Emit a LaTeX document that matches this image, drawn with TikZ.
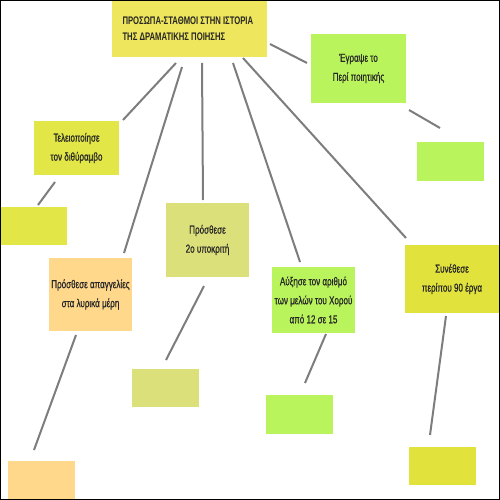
\documentclass[tikz,border=0pt]{standalone}
\usepackage{fontspec}
\setmainfont{Liberation Sans}[FakeStretch=0.7]
\newfontfamily\heavyfont{Liberation Sans}[FakeStretch=0.7,FakeBold=0.6]
\usetikzlibrary{calc}
\definecolor{cmain}{RGB}{238,230,92}
\definecolor{clime}{RGB}{186,244,92}
\definecolor{cyel}{RGB}{226,230,70}
\definecolor{colive}{RGB}{220,224,122}
\definecolor{corange}{RGB}{255,216,140}
\definecolor{csyn}{RGB}{226,226,60}
\definecolor{cline}{RGB}{125,125,125}
\tikzset{
  box/.style={inner sep=0pt, outer sep=0pt, align=center, font=\heavyfont\fontsize{11.5}{19}\selectfont, text=black!85},
  link/.style={draw=cline, line width=2pt}
}
\begin{document}
\begin{tikzpicture}[x=1pt,y=-1pt]
\useasboundingbox (0,0) rectangle (500,500);
\fill[white] (0,0) rectangle (500,500);
% boxes
\node[box, fill=cmain, minimum width=155pt, minimum height=57pt, align=left, font=\fontsize{11}{16}\selectfont\bfseries] (main) at (189.5,28.5) {\raisebox{3pt}{\parbox{134pt}{ΠΡΟΣΩΠΑ-ΣΤΑΘΜΟΙ ΣΤΗΝ ΙΣΤΟΡΙΑ\\ΤΗΣ ΔΡΑΜΑΤΙΚΗΣ ΠΟΙΗΣΗΣ}}};
\node[box, fill=clime, minimum width=95pt, minimum height=69pt] (egr) at (358.5,68.5) {\raisebox{3pt}{\parbox{80pt}{\centering Έγραψε το\\Περί ποιητικής}}};
\node[box, fill=clime, minimum width=67pt, minimum height=39pt] (e1) at (450.5,161.5) {};
\node[box, fill=cyel, minimum width=85pt, minimum height=54pt] (tel) at (76.5,148) {Τελειοποίησε\\τον διθύραμβο};
\node[box, fill=cyel, minimum width=67pt, minimum height=38pt] (e2) at (33.5,226) {};
\node[box, fill=colive, minimum width=83pt, minimum height=74pt] (pro2) at (207.5,240) {Πρόσθεσε\\2ο υποκριτή};
\node[box, fill=colive, minimum width=67pt, minimum height=38pt] (e3) at (165.5,388) {};
\node[box, fill=corange, minimum width=83pt, minimum height=73pt] (apag) at (90.5,294.5) {\raisebox{4pt}{\parbox{82pt}{\centering Πρόσθεσε απαγγελίες\\στα λυρικά μέρη}}};
\node[box, fill=corange, minimum width=67pt, minimum height=39pt] (e4) at (41.5,480.5) {};
\node[box, fill=clime, minimum width=83pt, minimum height=66pt] (auxi) at (313.5,300) {Αύξησε τον αριθμό\\των μελών του Χορού\\από 12 σε 15};
\node[box, fill=clime, minimum width=67pt, minimum height=39pt] (e5) at (299.5,414.5) {};
\node[box, fill=csyn, minimum width=94pt, minimum height=68pt] (syn) at (452,279) {\raisebox{5pt}{\parbox{80pt}{\centering Συνέθεσε\\περίπου 90 έργα}}};
\node[box, fill=csyn, minimum width=67pt, minimum height=38pt] (e6) at (442.5,466) {};
% connectors
\draw[link] ([shift={(3,-13)}]main.south east) -- ([shift={(-4,-5.5)}]egr.west);
\draw[link] ([shift={(3,7)}]egr.south east) -- ([shift={(-10.5,-14)}]e1.north);
\draw[link] ([shift={(-13.5,6)}]main.south) -- ([shift={(4,-1)}]tel.north east);
\draw[link] ([shift={(-21.5,7)}]tel.south) -- ([shift={(4.5,-2)}]e2.north);
\draw[link] ([shift={(-7.5,10)}]main.south) -- ([shift={(33.5,-5)}]apag.north);
\draw[link] ([shift={(12.5,6)}]main.south) -- ([shift={(-4.5,-3)}]pro2.north);
\draw[link] ([shift={(43.5,6)}]main.south) -- ([shift={(-13.5,-5)}]auxi.north);
\draw[link] ([shift={(53.5,1)}]main.south) -- ([shift={(1,-7)}]syn.north west);
\draw[link] ([shift={(-3.5,9)}]pro2.south) -- ([shift={(0.5,-9)}]e3.north);
\draw[link] ([shift={(-14.5,4)}]apag.south) -- ([shift={(-7.5,-11)}]e4.north);
\draw[link] ([shift={(12.5,1)}]auxi.south) -- ([shift={(5.5,-12)}]e5.north);
\draw[link] ([shift={(-6,3)}]syn.south) -- ([shift={(-12.5,-12)}]e6.north);
% frame
\draw[black, line width=1pt] (0.5,0.5) rectangle (499.5,499.5);
\end{tikzpicture}
\end{document}
